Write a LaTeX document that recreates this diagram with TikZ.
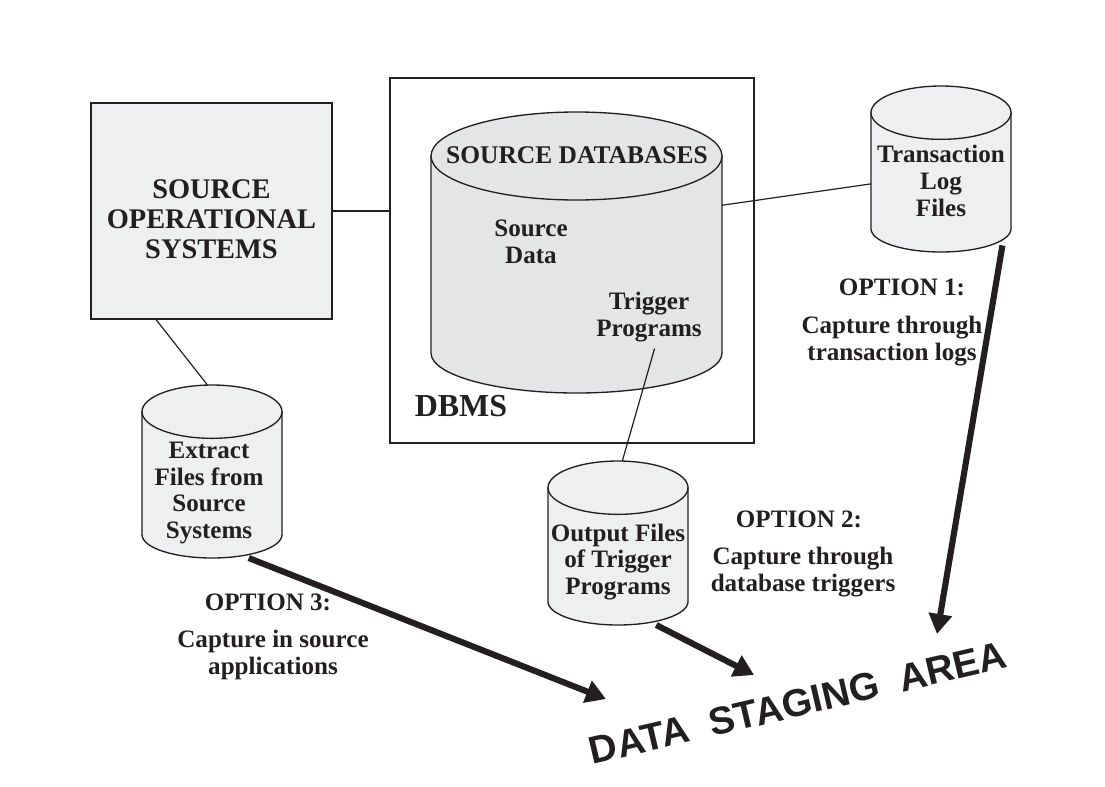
\documentclass[tikz,border=0pt]{standalone}
\usepackage{fontspec}
\setmainfont{Liberation Serif}
\setsansfont{Liberation Sans}
\usetikzlibrary{arrows.meta,positioning}
\definecolor{boxgray}{HTML}{EEEFF0}
\definecolor{dbgray}{HTML}{E4E5E7}
\definecolor{inkblack}{HTML}{231F20}

% name, centre, width, height, top radius, bottom radius, fill
\newcommand{\dbcan}[7]{
  \node[canframe, minimum width=#3, minimum height=#4] (#1) at (#2) {};
  \draw[canline, fill=#7] ([yshift=-#5]#1.north west) -- ([yshift=#6]#1.south west)
    arc[start angle=180, end angle=360, x radius=#3/2, y radius=#6]
    -- ([yshift=-#5]#1.north east) -- cycle;
  \draw[canline, fill=#7] ([yshift=-#5]#1.north) ellipse[x radius=#3/2, y radius=#5];
}

\begin{document}
\begin{tikzpicture}[
  x=0.75pt, y=-0.75pt,
  color=inkblack,
  sysbox/.style={rectangle, draw, line width=1pt, inner sep=0pt},
  canframe/.style={rectangle, inner sep=0pt, outer sep=0pt},
  canline/.style={line width=1pt},
  lbl/.style={font=\fontsize{18.8}{20.1}\selectfont\bfseries, align=center, inner sep=0pt},
  link/.style={line width=0.9pt},
  feed/.style={line width=4.6pt, -{Triangle[length=15pt, width=17pt]}}
]
  \useasboundingbox (0,0) rectangle (1105,786);

  \node[sysbox, fill=boxgray, minimum width=180.75pt, minimum height=162pt] (srcsys) at (211.5,211) {};
  \node[sysbox, minimum width=273pt, minimum height=273.75pt] (dbms) at (572,260.5) {};
  \dbcan{srcdb}{576.5,252.5}{218.25pt}{210.75pt}{33pt}{30pt}{dbgray}
  \dbcan{logfile}{941,169}{105pt}{124.5pt}{20pt}{17.5pt}{boxgray}
  \dbcan{extract}{212,471.5}{105pt}{129.75pt}{20pt}{17.5pt}{boxgray}
  \dbcan{output}{618,543}{105pt}{123pt}{20pt}{17.5pt}{boxgray}

  \node[lbl, font=\fontsize{21.3}{22.3}\selectfont\bfseries] (srclbl) at (211.5,219) {SOURCE\\OPERATIONAL\\SYSTEMS};
  \node[lbl, font=\fontsize{19.1}{20}\selectfont\bfseries] (dblbl) at (577,155) {SOURCE DATABASES};
  \node[lbl] (datalbl) at (531,242) {Source\\Data};
  \node[lbl, outer sep=5pt] (triglbl) at (649,317) {Trigger\\Programs};
  \node[lbl, font=\fontsize{24}{26}\selectfont\bfseries] (dbmslbl) at (461,406) {DBMS};
  \node[lbl] (loglbl) at (941,181) {Transaction\\Log\\Files};
  \node[lbl] (extlbl) at (209,493) {Extract\\Files from\\Source\\Systems};
  \node[lbl] (outlbl) at (618,562) {Output Files\\of Trigger\\Programs};

  \node[lbl] (opt1) at (902,287) {OPTION 1:};
  \node[lbl] (cap1) at (892,341) {Capture through\\transaction logs};
  \node[lbl] (opt2) at (799,519) {OPTION 2:};
  \node[lbl] (cap2) at (803,572) {Capture through\\database triggers};
  \node[lbl] (opt3) at (268,602) {OPTION 3:};
  \node[lbl] (cap3) at (273,655) {Capture in source\\applications};

  \node[font=\fontsize{29}{30}\sffamily\bfseries\selectfont, inner sep=0pt, rotate=13.2] (staging) at (798,703) {DATA\ \ STAGING\ \ AREA};

  \coordinate (areaone) at (937,634);
  \coordinate (areatwo) at (754,675);
  \coordinate (areathree) at (606,699);

  \draw[link] (srcsys.east) -- (srcsys.east -| dbms.west);
  \draw[link] (srcdb.18.8) -- (logfile.192.9);
  \draw[link] (srcsys.243.6) -- (extract.93.3);
  \draw[link] (triglbl.-80) -- (output.87.2);
  \draw[feed, shorten <=-5pt] (logfile.-54.7) -- (areaone);
  \draw[feed] (extract.-67) -- (areathree);
  \draw[feed] (output.-65.7) -- (areatwo);
\end{tikzpicture}
\end{document}
